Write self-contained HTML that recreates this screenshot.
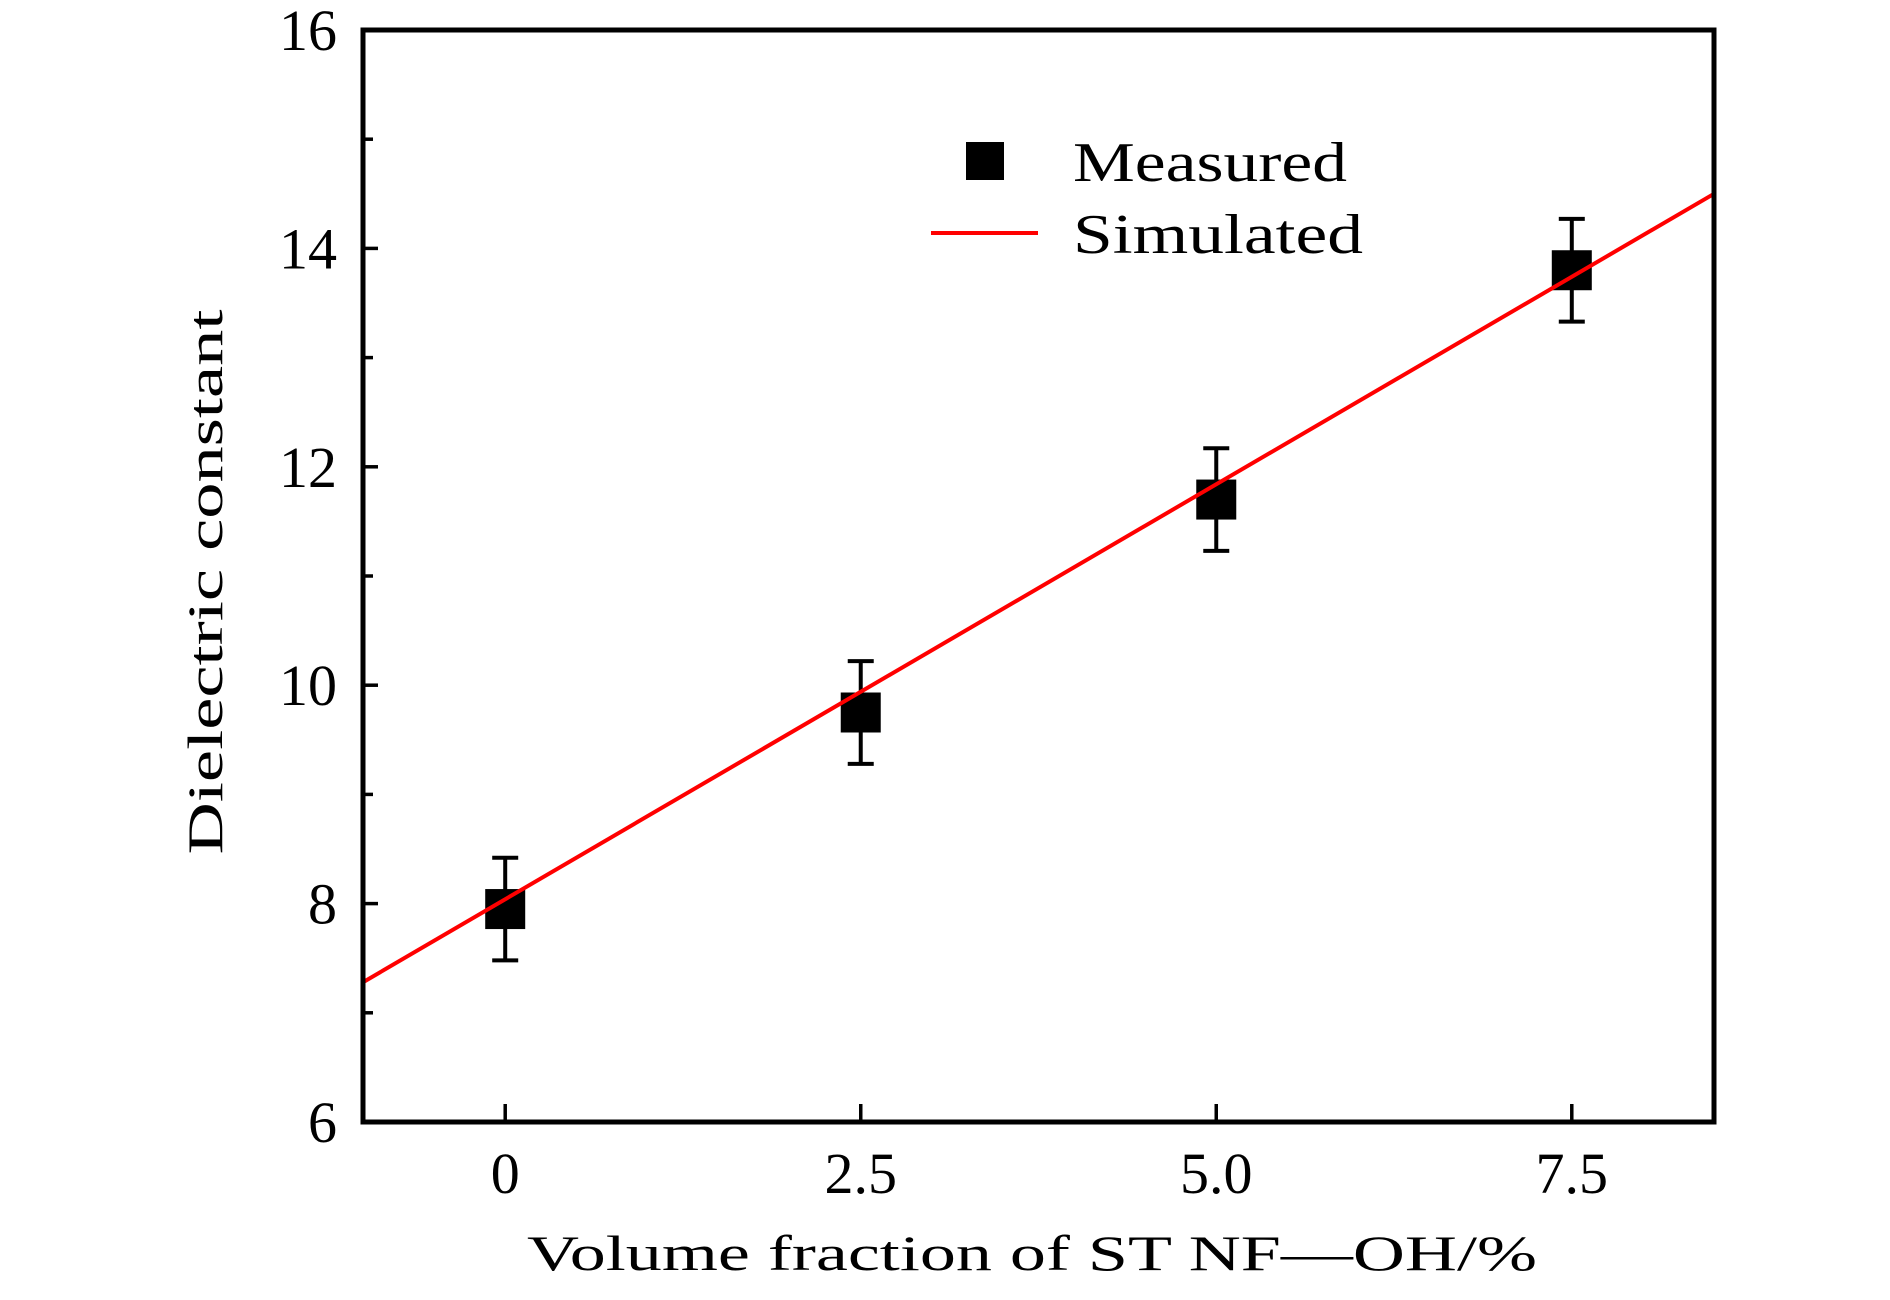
<!DOCTYPE html>
<html><head><meta charset="utf-8"><style>body{margin:0;background:#fff}svg{display:block}text{font-family:"Liberation Serif",serif;fill:#000}</style></head>
<body>
<svg id="chart" width="1890" height="1300" viewBox="0 0 1890 1300" xmlns="http://www.w3.org/2000/svg">
<g id="ticks"></g>
<g id="marks"></g>
<rect x="363" y="30" width="1351" height="1092" fill="none" stroke="#000" stroke-width="5"/>
<text transform="translate(222,582) rotate(-90)" text-anchor="middle" font-size="50" textLength="545" lengthAdjust="spacingAndGlyphs">Dielectric constant</text>
<text x="1032" y="1270" text-anchor="middle" font-size="50" textLength="1010" lengthAdjust="spacingAndGlyphs">Volume fraction of ST NF—OH/%</text>
<g>
<rect x="966" y="142" width="38" height="38" fill="#000"/>
<text x="1073" y="181" font-size="56" textLength="274" lengthAdjust="spacingAndGlyphs">Measured</text>
<line x1="931" y1="233" x2="1038" y2="233" stroke="#f00" stroke-width="4"/>
<text x="1073" y="253" font-size="56" textLength="290" lengthAdjust="spacingAndGlyphs">Simulated</text>
</g>
</svg>
<script>
const categories=[0,2.5,5.0,7.5];
const measured=[7.95,9.75,11.7,13.8];
const errors=[0.47,0.47,0.47,0.47];
const simX=[-1,8.5];
const simY=[7.28,14.5];
const xTicks=[0,2.5,5.0,7.5];
const xTickLabels=["0","2.5","5.0","7.5"];
const yTicks=[6,8,10,12,14,16];
const yTickLabels=["6","8","10","12","14","16"];
const yMinor=[7,9,11,13,15];
const X=v=>363+(v+1)/9.5*1351;
const Y=v=>1122-(v-6)/10*1092;
const NS="http://www.w3.org/2000/svg";
const tg=document.getElementById('ticks'),mg=document.getElementById('marks');
function mk(tag,attrs,parent){const e=document.createElementNS(NS,tag);for(const k in attrs)e.setAttribute(k,attrs[k]);parent.appendChild(e);return e;}
yTicks.forEach((v,i)=>{
 const l=mk('line',{x1:363,x2:378,y1:Y(v),y2:Y(v),stroke:'#000','stroke-width':3.5},tg);
 
 
 const t=mk('text',{x:337,y:Y(v)+20,'text-anchor':'end','font-size':58},tg);t.textContent=yTickLabels[i];
 
 
});
yMinor.forEach(v=>{
 const l=mk('line',{x1:363,x2:373,y1:Y(v),y2:Y(v),stroke:'#000','stroke-width':3.5},tg);
 
 
});
xTicks.forEach((v,i)=>{
 const l=mk('line',{x1:X(v),x2:X(v),y1:1122,y2:1104,stroke:'#000','stroke-width':3.5},tg);
 
 
 const t=mk('text',{x:X(v),y:1193,'text-anchor':'middle','font-size':58},tg);t.textContent=xTickLabels[i];
 
 
});
const sl=mk('line',{x1:X(simX[0]),y1:Y(simY[0]),x2:X(simX[1]),y2:Y(simY[1]),stroke:'#f00','stroke-width':4},mg);


categories.forEach((c,i)=>{
 const x=X(c),y=measured[i],e=errors[i];
 const eb=mk('path',{d:`M${x},${Y(y-e)}V${Y(y+e)}M${x-13},${Y(y-e)}H${x+13}M${x-13},${Y(y+e)}H${x+13}`,stroke:'#000','stroke-width':4,fill:'none'},mg);
 
 
 const r=mk('rect',{x:x-20,y:Y(y)-20,width:40,height:40,fill:'#000'},mg);
 
 
});
mg.appendChild(sl);
</script>
</body></html>
